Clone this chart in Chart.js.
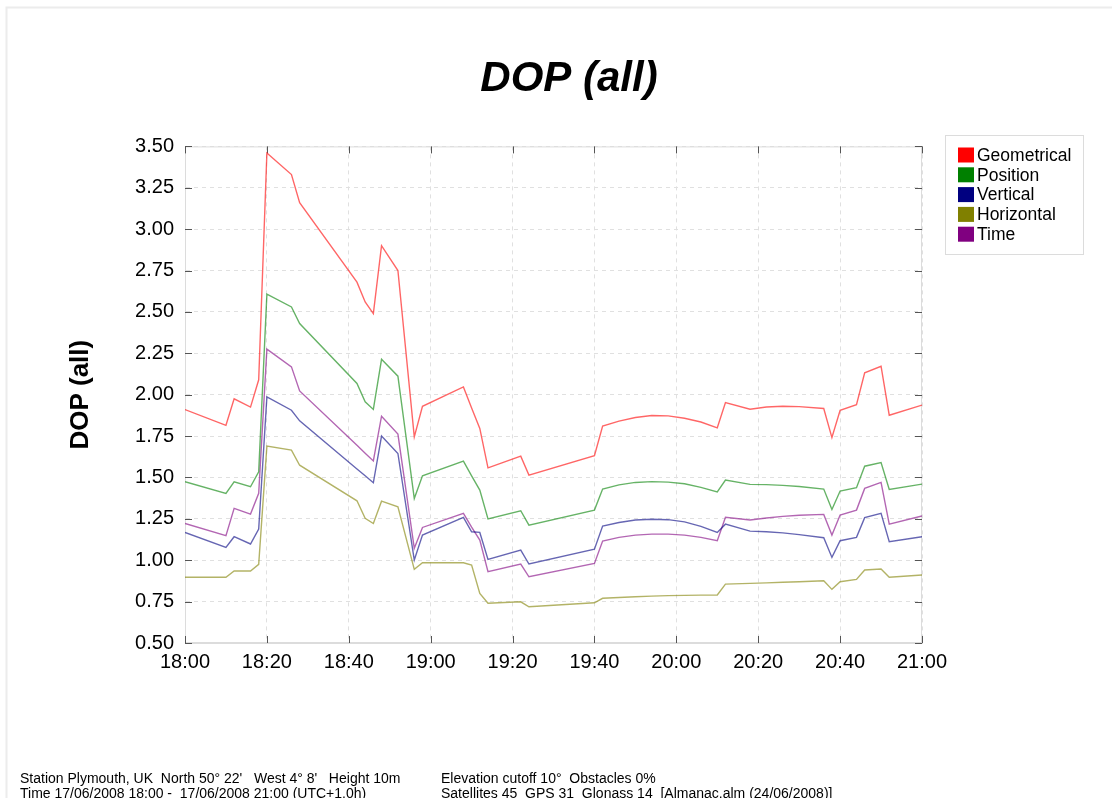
<!DOCTYPE html>
<html>
<head>
<meta charset="utf-8">
<title>DOP (all)</title>
<script src="https://cdn.jsdelivr.net/npm/chart.js@4/dist/chart.umd.min.js"></script>
<style>
  html, body { margin: 0; padding: 0; background: #fff; }
  canvas { display: block; }
</style>
</head>
<body>
<canvas id="myChart" width="1112" height="798"></canvas>
<script>
// minutes after 18:00
const minutes = [0, 10, 12, 16, 18, 20, 26, 28, 42, 44, 46, 48, 52, 56, 58, 68, 70, 72, 74, 82, 84,
  100, 102, 106, 110, 114, 118, 122, 126, 130, 132, 138, 142, 146, 150, 156, 158, 160, 164, 166, 170, 172, 180];

const geometrical = [1.91, 1.815, 1.975, 1.925, 2.09, 3.46, 3.33, 3.16, 2.68, 2.56, 2.49, 2.90, 2.75, 1.745, 1.93,
  2.047, 1.92, 1.796, 1.558, 1.629, 1.514, 1.631, 1.81, 1.84, 1.862, 1.874, 1.872, 1.858, 1.835, 1.80,
  1.953, 1.912, 1.926, 1.93, 1.928, 1.917, 1.741, 1.906, 1.94, 2.132, 2.172, 1.876, 1.937];
const position = [1.474, 1.404, 1.474, 1.444, 1.534, 2.607, 2.53, 2.43, 2.068, 1.957, 1.911, 2.214, 2.112, 1.373, 1.51,
  1.599, 1.51, 1.424, 1.249, 1.299, 1.212, 1.303, 1.43, 1.455, 1.47, 1.475, 1.472, 1.462, 1.44, 1.413,
  1.484, 1.458, 1.457, 1.452, 1.445, 1.43, 1.307, 1.418, 1.438, 1.568, 1.59, 1.428, 1.46];
const vertical = [1.168, 1.078, 1.142, 1.098, 1.188, 1.987, 1.906, 1.842, 1.551, 1.51, 1.468, 1.75, 1.645, 1.001, 1.152,
  1.259, 1.172, 1.168, 1.005, 1.061, 0.977, 1.067, 1.206, 1.228, 1.243, 1.248, 1.245, 1.232, 1.205, 1.168,
  1.218, 1.176, 1.172, 1.165, 1.155, 1.136, 1.017, 1.118, 1.138, 1.257, 1.283, 1.112, 1.142];
const horizontal = [0.897, 0.897, 0.935, 0.935, 0.975, 1.689, 1.665, 1.574, 1.359, 1.253, 1.222, 1.357, 1.323, 0.945, 0.985,
  0.985, 0.971, 0.80, 0.74, 0.749, 0.719, 0.743, 0.77, 0.775, 0.779, 0.783, 0.786, 0.788, 0.789, 0.79,
  0.856, 0.86, 0.863, 0.867, 0.87, 0.876, 0.824, 0.87, 0.884, 0.941, 0.947, 0.897, 0.911];
const time = [1.222, 1.148, 1.313, 1.279, 1.404, 2.275, 2.168, 2.023, 1.694, 1.647, 1.60, 1.87, 1.762, 1.072, 1.198,
  1.283, 1.20, 1.122, 0.931, 0.977, 0.90, 0.981, 1.116, 1.138, 1.152, 1.158, 1.158, 1.152, 1.138, 1.118,
  1.259, 1.243, 1.255, 1.265, 1.272, 1.277, 1.152, 1.273, 1.303, 1.434, 1.47, 1.218, 1.267];

const xTickLabels = ['18:00', '18:20', '18:40', '19:00', '19:20', '19:40', '20:00', '20:20', '20:40', '21:00'];
const seriesNames = ['Geometrical', 'Position', 'Vertical', 'Horizontal', 'Time'];
const seriesValues = [geometrical, position, vertical, horizontal, time];
const swatchColors = ['#ff0000', '#008000', '#000080', '#808000', '#800080'];
const lineColors = ['rgba(255,0,0,0.6)', 'rgba(0,128,0,0.6)', 'rgba(0,0,128,0.6)', 'rgba(128,128,0,0.6)', 'rgba(128,0,128,0.6)'];

const footerLeft = ["Station Plymouth, UK  North 50\u00b0 22'   West 4\u00b0 8'   Height 10m",
  'Time 17/06/2008 18:00 -  17/06/2008 21:00 (UTC+1.0h)'];
const footerRight = ['Elevation cutoff 10\u00b0  Obstacles 0%',
  'Satellites 45  GPS 31  Glonass 14  [Almanac.alm (24/06/2008)]'];

const FONT = "'Liberation Sans', Arial, Helvetica, sans-serif";

const datasets = seriesNames.map((name, i) => ({
  label: name,
  data: minutes.map((m, j) => ({ x: m, y: seriesValues[i][j] })),
  borderColor: lineColors[i],
  backgroundColor: swatchColors[i],
  borderWidth: 1.4,
  pointRadius: 0,
  tension: 0,
  fill: false
}));

// frame, inward tick marks, legend box and footer text
const extras = {
  id: 'extras',
  beforeDraw(chart) {
    const ctx = chart.ctx;
    ctx.save();
    ctx.fillStyle = '#fff';
    ctx.fillRect(0, 0, chart.width, chart.height);
    ctx.strokeStyle = '#ececec';
    ctx.lineWidth = 2;
    ctx.beginPath();
    ctx.moveTo(6.5, chart.height);
    ctx.lineTo(6.5, 7.5);
    ctx.lineTo(chart.width, 7.5);
    ctx.stroke();
    ctx.restore();
  },
  beforeDatasetsDraw(chart) {
    const ctx = chart.ctx;
    const a = chart.chartArea;
    const xs = chart.scales.x, ys = chart.scales.y;
    ctx.save();
    ctx.strokeStyle = '#dcdcdc';
    ctx.lineWidth = 1;
    ctx.strokeRect(a.left + 0.5, a.top + 0.5, a.right - a.left - 1, a.bottom - a.top - 1);
    ctx.strokeStyle = '#555';
    ctx.beginPath();
    xs.ticks.forEach(t => {
      const px = Math.round(xs.getPixelForValue(t.value)) + 0.5;
      ctx.moveTo(px, a.bottom); ctx.lineTo(px, a.bottom - 7);
      ctx.moveTo(px, a.top); ctx.lineTo(px, a.top + 7);
    });
    ys.ticks.forEach(t => {
      const py = Math.round(ys.getPixelForValue(t.value)) + 0.5;
      ctx.moveTo(a.left, py); ctx.lineTo(a.left + 7, py);
      ctx.moveTo(a.right, py); ctx.lineTo(a.right - 7, py);
    });
    ctx.stroke();
    ctx.restore();
  },
  afterDraw(chart) {
    const ctx = chart.ctx;
    ctx.save();
    // legend
    ctx.strokeStyle = '#dcdcdc';
    ctx.lineWidth = 1;
    ctx.strokeRect(945.5, 135.5, 138, 119);
    ctx.font = '17.5px ' + FONT;
    ctx.textBaseline = 'middle';
    ctx.textAlign = 'left';
    chart.data.datasets.forEach((ds, i) => {
      const cy = 155 + i * 19.8;
      ctx.fillStyle = ds.backgroundColor;
      ctx.fillRect(958, cy - 7.5, 16, 15);
      ctx.fillStyle = '#000';
      ctx.fillText(ds.label, 977, cy + 1);
    });
    // footer
    ctx.font = '14px ' + FONT;
    ctx.fillStyle = '#000';
    footerLeft.forEach((s, i) => ctx.fillText(s, 20, 779 + i * 15));
    footerRight.forEach((s, i) => ctx.fillText(s, 441, 779 + i * 15));
    ctx.restore();
  }
};

new Chart(document.getElementById('myChart'), {
  type: 'line',
  data: { datasets: datasets },
  options: {
    responsive: false,
    animation: false,
    devicePixelRatio: 1,
    layout: { padding: { left: 26, right: 0, top: 0, bottom: 0 } },
    plugins: {
      legend: { display: false },
      tooltip: { enabled: false },
      title: {
        display: true,
        text: 'DOP (all)',
        color: '#000',
        font: { family: FONT, size: 42, weight: 'bold', style: 'italic' },
        padding: { top: 54, bottom: 42 }
      }
    },
    scales: {
      x: {
        type: 'linear',
        min: 0,
        max: 180,
        afterFit: s => { s.height = 155; },
        ticks: {
          stepSize: 20,
          color: '#000',
          padding: 7,
          maxRotation: 0,
          font: { family: FONT, size: 20 },
          callback: v => xTickLabels[v / 20]
        },
        grid: { color: '#e0e0e0', drawTicks: false },
        border: { color: '#dcdcdc', dash: [4, 4] }
      },
      y: {
        min: 0.5,
        max: 3.5,
        afterFit: s => { s.width = 159; },
        ticks: {
          stepSize: 0.25,
          color: '#000',
          padding: 11,
          font: { family: FONT, size: 20 },
          callback: v => v.toFixed(2)
        },
        title: {
          display: true,
          text: 'DOP (all)',
          color: '#000',
          font: { family: FONT, size: 26, weight: 'bold' },
          padding: { top: 39, bottom: 0 }
        },
        grid: { color: '#e0e0e0', drawTicks: false },
        border: { color: '#dcdcdc', dash: [4, 4] }
      },
      y2: {
        position: 'right',
        min: 0.5,
        max: 3.5,
        afterFit: s => { s.width = 190; },
        ticks: { display: false },
        grid: { display: false },
        border: { display: false }
      }
    }
  },
  plugins: [extras]
});
</script>
</body>
</html>
